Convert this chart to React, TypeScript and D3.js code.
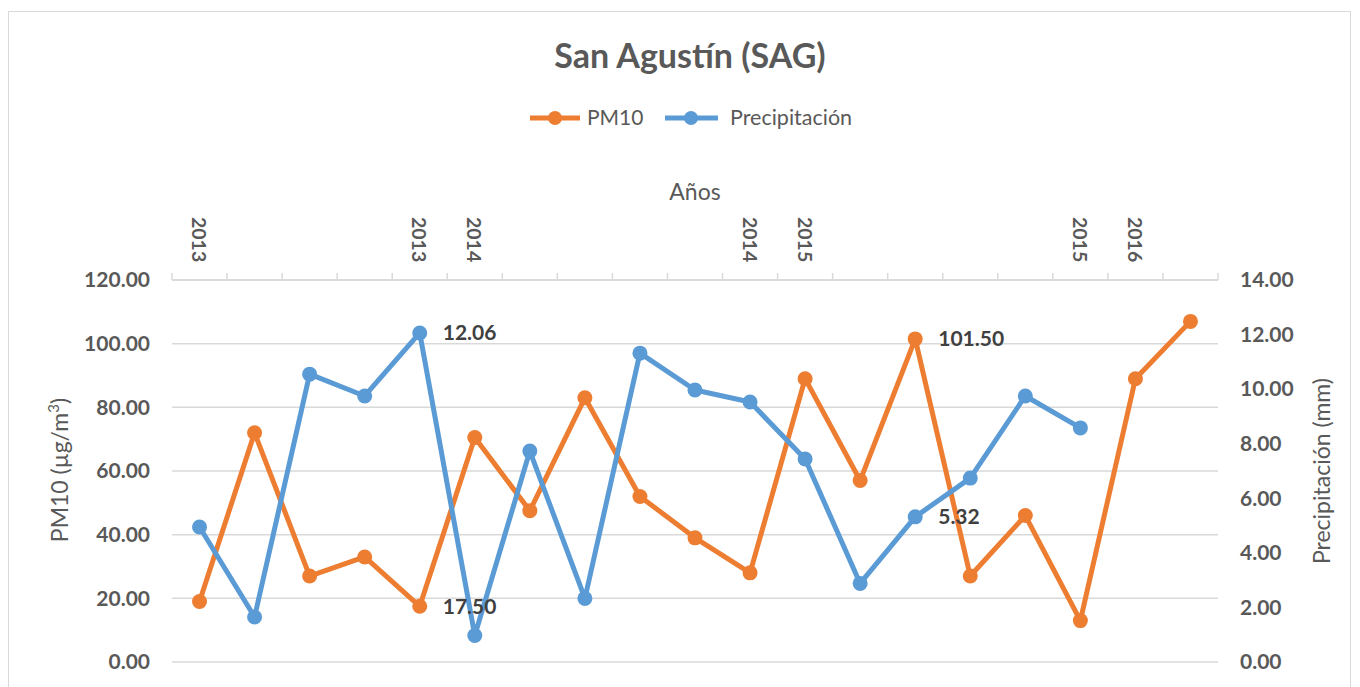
import React from 'react';
import * as d3 from 'd3';

// categories along the top axis (Excel shows only some of them)
const yearLabels = ['2013', '', '', '', '2013', '2014', '', '', '', '', '2014', '2015', '', '', '', '', '2015', '2016', ''];
const pm10 = [19, 72, 27, 33, 17.5, 70.5, 47.5, 83, 52, 39, 28, 89, 57, 101.5, 27, 46, 13, 89, 107];
const precip = [4.95, 1.65, 10.55, 9.75, 12.06, 0.97, 7.73, 2.33, 11.32, 9.97, 9.53, 7.44, 2.88, 5.32, 6.74, 9.75, 8.58];
const leftTicks = [0, 20, 40, 60, 80, 100, 120];
const rightTicks = [0, 2, 4, 6, 8, 10, 12, 14];
// points that carry a data label
const pmLabelIdx = [4, 13];
const prLabelIdx = [4, 13];

const ORANGE = '#ED7D31';
const BLUE = '#5B9BD5';
const GRAY = '#595959';
const GRID = '#d9d9d9';
const FONT = 'Lato, "Open Sans", sans-serif';

export default function App() {
  const width = 1360;
  const height = 687;
  const left = 172;
  const right = 1218;
  const top = 280;
  const bottom = 662;

  const x = d3.scaleBand<number>().domain(d3.range(yearLabels.length)).range([left, right]);
  const cx = (i: number) => (x(i) as number) + x.bandwidth() / 2;
  const yL = d3.scaleLinear().domain([0, 120]).range([bottom, top]);
  const yR = d3.scaleLinear().domain([0, 14]).range([bottom, top]);

  const pmLine = d3.line<number>().x((d, i) => cx(i)).y((d) => yL(d));
  const prLine = d3.line<number>().x((d, i) => cx(i)).y((d) => yR(d));

  const boundaries = d3.range(yearLabels.length + 1).map((i) => left + i * x.step());

  return (
    <svg width={width} height={height} style={{ position: 'absolute', left: 0, top: 0, background: '#fff' }} fontFamily={FONT}>
      <rect x={8.5} y={11.5} width={1342} height={700} fill="#fff" stroke={GRID} strokeWidth={1} />

      <text x={690} y={68} textAnchor="middle" fontSize={34} fontWeight="bold" fill={GRAY}>
        San Agustín (SAG)
      </text>

      {/* legend */}
      <g>
        <line x1={530} x2={580} y1={118} y2={118} stroke={ORANGE} strokeWidth={5} />
        <circle cx={555} cy={118} r={7} fill={ORANGE} />
        <text x={587} y={125} fontSize={21} fill={GRAY}>PM10</text>
        <line x1={665} x2={718} y1={118} y2={118} stroke={BLUE} strokeWidth={5} />
        <circle cx={691} cy={118} r={7} fill={BLUE} />
        <text x={730} y={125} fontSize={21.5} fill={GRAY}>Precipitación</text>
      </g>

      <text x={695} y={200} textAnchor="middle" fontSize={23} fill={GRAY}>Años</text>

      {/* gridlines */}
      {leftTicks.map((t) => (
        <line key={'g' + t} x1={left} x2={right} y1={yL(t)} y2={yL(t)} stroke={GRID} strokeWidth={1.5} />
      ))}

      {/* top category axis */}
      <line x1={left} x2={right} y1={top} y2={top} stroke={GRID} strokeWidth={1.5} />
      {boundaries.map((b, i) => (
        <line key={'t' + i} x1={b} x2={b} y1={top} y2={top - 7} stroke={GRID} strokeWidth={1.5} />
      ))}
      {yearLabels.map((lab, i) =>
        lab ? (
          <text
            key={'y' + i}
            transform={`translate(${cx(i)},217) rotate(90)`}
            dominantBaseline="central"
            fontSize={19.5}
            fontWeight="bold"
            fill={GRAY}
          >
            {lab}
          </text>
        ) : null
      )}

      {/* left axis */}
      {leftTicks.map((t) => (
        <text key={'l' + t} x={150} y={yL(t)} dy="0.35em" textAnchor="end" fontSize={21} fontWeight="bold" fill={GRAY}>
          {t.toFixed(2)}
        </text>
      ))}
      <text transform="translate(68,470) rotate(-90)" textAnchor="middle" fontSize={23} fill={GRAY}>
        PM10 (µg/m<tspan dy={-9} fontSize={15}>3</tspan><tspan dy={9}>)</tspan>
      </text>

      {/* right axis */}
      {rightTicks.map((t) => (
        <text key={'r' + t} x={1240} y={yR(t)} dy="0.35em" textAnchor="start" fontSize={21} fontWeight="bold" fill={GRAY}>
          {t.toFixed(2)}
        </text>
      ))}
      <text transform="translate(1330,471) rotate(-90)" textAnchor="middle" fontSize={23} fill={GRAY}>
        Precipitación (mm)
      </text>

      {/* series */}
      <path d={pmLine(pm10) || ''} fill="none" stroke={ORANGE} strokeWidth={5} strokeLinejoin="round" />
      {pm10.map((v, i) => (
        <circle key={'pc' + i} cx={cx(i)} cy={yL(v)} r={7.5} fill={ORANGE} />
      ))}
      <path d={prLine(precip) || ''} fill="none" stroke={BLUE} strokeWidth={5} strokeLinejoin="round" />
      {precip.map((v, i) => (
        <circle key={'bc' + i} cx={cx(i)} cy={yR(v)} r={7.5} fill={BLUE} />
      ))}

      {/* data labels */}
      {pmLabelIdx.map((i) => (
        <text key={'pl' + i} x={cx(i) + 23} y={yL(pm10[i])} dy="0.35em" fontSize={21} fontWeight="bold" fill="#404040">
          {pm10[i].toFixed(2)}
        </text>
      ))}
      {prLabelIdx.map((i) => (
        <text key={'bl' + i} x={cx(i) + 23} y={yR(precip[i])} dy="0.35em" fontSize={21} fontWeight="bold" fill="#404040">
          {precip[i].toFixed(2)}
        </text>
      ))}
    </svg>
  );
}
